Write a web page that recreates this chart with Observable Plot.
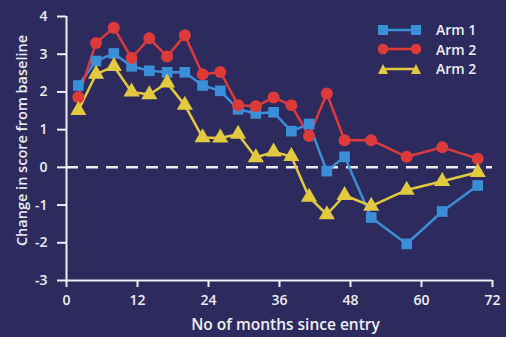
<!DOCTYPE html>
<html>
<head>
<meta charset="utf-8">
<script src="https://cdn.jsdelivr.net/npm/d3@7"></script>
<script src="https://cdn.jsdelivr.net/npm/@observablehq/plot@0.6"></script>
<style>
  html, body { margin: 0; padding: 0; background: #2d2b5d; }
  #wrap { position: relative; width: 506px; height: 337px; overflow: hidden; background: #2d2b5d; }
  #legend { position: absolute; left: 378px; top: 20px; font-family: "Open Sans", sans-serif; font-weight: 600; font-size: 14px; color: #eeeef4; }
  #legend .row { display: flex; align-items: center; height: 19.5px; }
  #legend svg { margin-right: 15px; }
</style>
</head>
<body>
<div id="wrap"><div id="chart"></div><div id="legend"></div></div>
<script>
const months = [2, 5, 8, 11, 14, 17, 20, 23, 26, 29, 32, 35, 38, 41, 44, 47, 51.5, 57.5, 63.5, 69.5];
const arm1 = [2.17, 2.82, 3.02, 2.68, 2.56, 2.52, 2.52, 2.17, 2.03, 1.54, 1.43, 1.46, 0.96, 1.15, -0.10, 0.28, -1.33, -2.03, -1.17, -0.48];
const arm2 = [1.86, 3.30, 3.70, 2.90, 3.42, 2.94, 3.50, 2.47, 2.53, 1.65, 1.62, 1.85, 1.65, 0.83, 1.96, 0.72, 0.72, 0.28, 0.53, 0.23];
const arm3 = [1.51, 2.47, 2.68, 2.00, 1.93, 2.24, 1.65, 0.79, 0.78, 0.88, 0.26, 0.41, 0.29, -0.79, -1.25, -0.74, -1.03, -0.60, -0.37, -0.13];
const seriesNames = ["Arm 1", "Arm 2", "Arm 2"];
const seriesKeys = ["a1", "a2", "a3"];
const seriesColors = ["#3b8fd9", "#dc3b3a", "#e2c93f"];
const seriesSymbols = ["square", "circle", "triangle"];
const xTicks = [0, 12, 24, 36, 48, 60, 72];
const yTicks = [-3, -2, -1, 0, 1, 2, 3, 4];

const allVals = [arm1, arm2, arm3];
const rows = [];
allVals.forEach((vals, i) => {
  vals.forEach((v, j) => rows.push({ key: seriesKeys[i], month: months[j], value: v }));
});
const ink = "#eeeef4";
const fmt = d => String(d);

const plot = Plot.plot({
  width: 506,
  height: 337,
  marginLeft: 66,
  marginRight: 14,
  marginTop: 16,
  marginBottom: 57,
  style: { background: "transparent", color: ink, fontFamily: "'Open Sans', sans-serif", fontSize: "13px", fontWeight: 600 },
  x: { domain: [0, 72], ticks: xTicks, label: null },
  y: { domain: [-3, 4], ticks: yTicks, label: null },
  color: { domain: seriesKeys, range: seriesColors },
  symbol: { domain: seriesKeys, range: seriesSymbols },
  marks: [
    Plot.ruleY([0], { stroke: ink, strokeWidth: 2.5, strokeDasharray: "12,8" }),
    Plot.ruleX([0], { stroke: ink, strokeWidth: 2 }),
    Plot.ruleY([-3], { stroke: ink, strokeWidth: 2 }),
    Plot.axisY({ ticks: yTicks, tickFormat: fmt, tickSize: 9, tickPadding: 10, stroke: ink, strokeWidth: 2, fontSize: 14, label: null }),
    Plot.axisX({ ticks: xTicks, tickFormat: fmt, tickSize: 7, tickPadding: 8, stroke: ink, strokeWidth: 2, fontSize: 14, label: null }),
    Plot.line(rows, { x: "month", y: "value", z: "key", stroke: "key", strokeWidth: 2.5 }),
    Plot.dot(rows, { x: "month", y: "value", fill: "key", symbol: "key", r: 6, stroke: null }),
    Plot.text(["No of months since entry"], { frameAnchor: "bottom", dx: 6, dy: 49, fill: ink, fontSize: 15.5, fontWeight: 600 }),
    Plot.text(["Change in score from baseline"], { frameAnchor: "left", textAnchor: "middle", lineAnchor: "middle", dx: -44, dy: -8, rotate: -90, fill: ink, fontSize: 14.5, fontWeight: 600 })
  ]
});
document.getElementById("chart").appendChild(plot);

// legend
const leg = document.getElementById("legend");
seriesNames.forEach((name, i) => {
  const row = document.createElement("div");
  row.className = "row";
  const c = seriesColors[i];
  let ends;
  if (seriesSymbols[i] === "square") ends = `<rect x="0" y="4" width="10" height="10" fill="${c}"/><rect x="33" y="4" width="10" height="10" fill="${c}"/>`;
  else if (seriesSymbols[i] === "circle") ends = `<circle cx="5" cy="9" r="5.3" fill="${c}"/><circle cx="38" cy="9" r="5.3" fill="${c}"/>`;
  else ends = `<path d="M0,14L5,4L10,14Z" fill="${c}"/><path d="M33,14L38,4L43,14Z" fill="${c}"/>`;
  row.innerHTML = `<svg width="43" height="18"><line x1="5" x2="38" y1="9" y2="9" stroke="${c}" stroke-width="2.5"/>${ends}</svg><span>${name}</span>`;
  leg.appendChild(row);
});
</script>
</body>
</html>
